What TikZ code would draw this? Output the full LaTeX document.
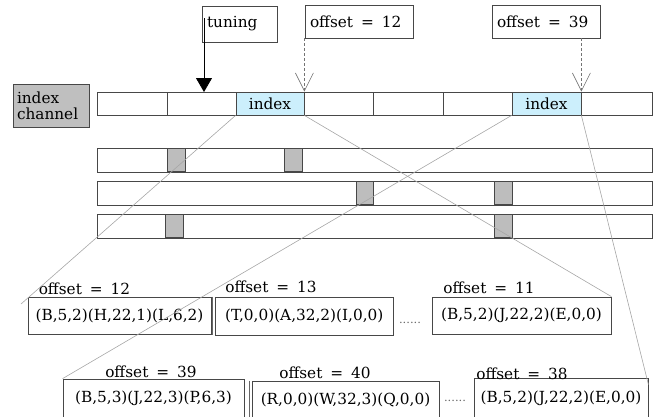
\documentclass[tikz,border=0pt]{standalone}
\usepackage{fontspec}
\setmainfont{DejaVu Serif}
\usetikzlibrary{arrows.meta}
\begin{document}
\begin{tikzpicture}[x=1pt,y=-1pt,
  txt/.style={font=\fontsize{15.3}{16}\selectfont},
  bx/.style={draw=black!72, line width=0.8pt, inner sep=0pt, txt},
  cell/.style={bx, minimum height=23pt},
  idxcell/.style={cell, fill=cyan!20},
  blk/.style={draw=black!72, line width=0.8pt, fill=black!26, minimum width=18pt, minimum height=23pt, inner sep=0pt},
  rowbar/.style={draw=black!72, line width=0.8pt, minimum width=555pt, minimum height=24pt, inner sep=0pt},
  lbl/.style={txt, anchor=base, inner sep=0pt},
  dots/.style={font=\fontsize{11.5}{12}\selectfont, anchor=base, inner sep=0pt, text=black!60},
  thinline/.style={draw=black!35, line width=0.6pt},
  dasharrow/.style={draw=black!55, line width=0.6pt, dash pattern=on 3pt off 2pt, -{Straight Barb[length=18pt,width=18pt]}},
  tunarrow/.style={draw=black, line width=0.8pt, -{Triangle[length=14pt,width=16pt]}},
  extraedge/.style={draw=black!60, line width=0.6pt}
]
\useasboundingbox (0,0) rectangle (659,416);

% top labels
\node[bx, minimum width=75pt, minimum height=36pt, align=left, text width=65pt, inner xsep=5pt] (tuning) at (239.5,24) {tuning};
\node[bx, minimum width=108pt, minimum height=33pt, align=left, text width=98pt, inner xsep=5pt] (off12) at (359,21.5) {\spaceskip=8pt offset = 12};
\node[bx, minimum width=108pt, minimum height=33pt, align=left, text width=98pt, inner xsep=5pt] (off39) at (546,21.5) {\spaceskip=8pt offset = 39};

% index channel
\node[bx, fill=black!25, minimum width=76pt, minimum height=43pt, align=left, text width=68pt, inner xsep=4pt] (ich) at (51,105.5) {index\\channel};

% main bar cells
\node[cell, minimum width=70pt] (c1) at (132,103.5) {};
\node[cell, minimum width=69pt] (c2) at (201.5,103.5) {};
\node[idxcell, minimum width=68pt] (c3) at (270,103.5) {index};
\node[cell, minimum width=69pt] (c4) at (338.5,103.5) {};
\node[cell, minimum width=70pt] (c5) at (408,103.5) {};
\node[cell, minimum width=69pt] (c6) at (477.5,103.5) {};
\node[idxcell, minimum width=69pt] (c7) at (546.5,103.5) {index};
\node[cell, minimum width=71pt] (c8) at (616.5,103.5) {};

% rows
\node[rowbar] (r1) at (374.5,160) {};
\node[rowbar] (r2) at (374.5,193) {};
\node[rowbar] (r3) at (374.5,226) {};
\node[blk] (g11) at (176,160) {};
\node[blk] (g12) at (293,160) {};
\node[blk, minimum width=17pt] (g21) at (364.5,193) {};
\node[blk] (g22) at (503,193) {};
\node[blk] (g31) at (174,226) {};
\node[blk] (g32) at (503,226) {};

% arrows from top labels
\coordinate (ts) at (204,18);
\coordinate (tt) at (204,92);
\draw[tunarrow] (ts) -- (tt);
\draw[dasharrow] (c3.north east |- off12.south) -- (c3.north east);
\draw[dasharrow] (c7.north east |- off39.south) -- (c7.north east);

% bottom boxes, first line
\node[bx, minimum width=183pt, minimum height=37pt] (A) at (119.5,315.5) {(B,5,2)(H,22,1)(L,6,2)};
\node[bx, minimum width=177.5pt, minimum height=38pt] (B) at (304.25,316) {(T,0,0)(A,32,2)(I,0,0)};
\draw[extraedge] ([xshift=-2.5pt]B.north west) -- ([xshift=-2.5pt]B.south west);
\node[dots] (d1) at (410,323) {......};
\node[bx, minimum width=179pt, minimum height=37pt] (C) at (521.5,315.5) {(B,5,2)(J,22,2)(E,0,0)};
\node[lbl] (l12) at (84.5,294) {\spaceskip=8pt offset = 12};
\node[lbl] (l13) at (271,292) {\spaceskip=8pt offset = 13};
\node[lbl] (l11) at (489,293) {\spaceskip=8pt offset = 11};

% bottom boxes, second line
\node[bx, minimum width=181pt, minimum height=39pt] (D) at (153.5,398.5) {(B,5,3)(J,22,3)(P,6,3)};
\node[bx, minimum width=187pt, minimum height=37pt] (E) at (345.5,399.5) {(R,0,0)(W,32,3)(Q,0,0)};
\draw[extraedge] ([xshift=-2.5pt]E.north west) -- ([xshift=-2.5pt]E.south west);
\node[dots] (d2) at (455,401) {......};
\node[bx, minimum width=174pt, minimum height=40pt] (F) at (561,398) {(B,5,2)(J,22,2)(E,0,0)};
\node[lbl] (l39) at (151,377) {\spaceskip=8pt offset = 39};
\node[lbl] (l40) at (325,378) {\spaceskip=8pt offset = 40};
\node[lbl] (l38) at (522,379) {\spaceskip=8pt offset = 38};

% fan lines
\coordinate (e1) at (21,304);
\draw[thinline] (c3.south west) -- (e1);
\draw[thinline] (c3.south east) -- (C.north east);
\draw[thinline] (c7.south west) -- (D.north west);
\draw[thinline] (c7.south east) -- ([yshift=-7pt]F.north east);
\end{tikzpicture}
\end{document}
